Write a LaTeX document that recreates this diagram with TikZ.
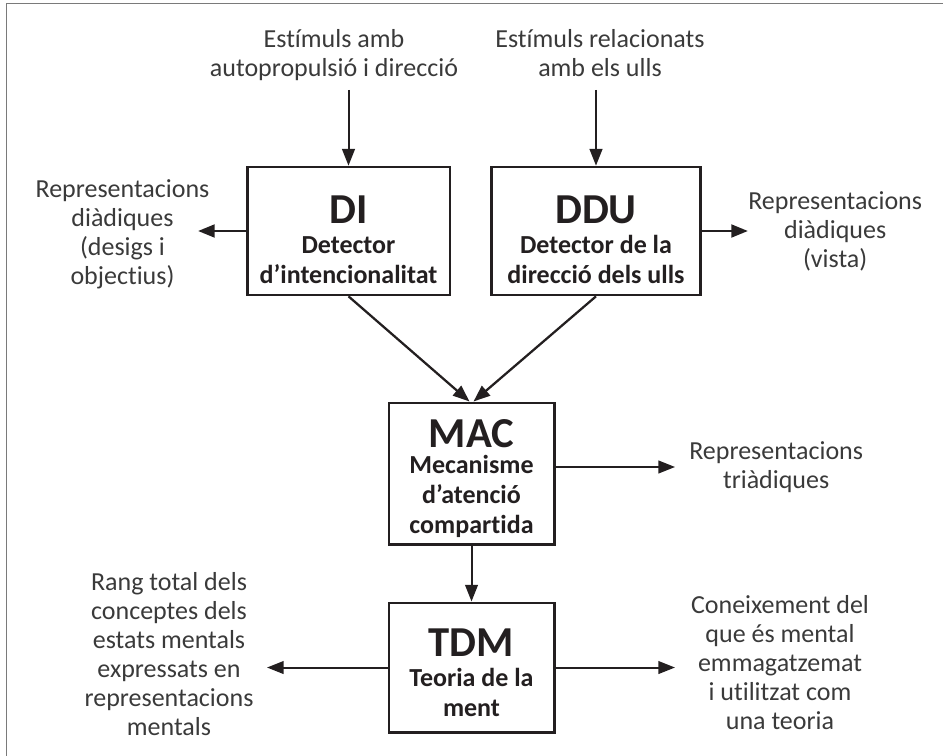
\documentclass[tikz,border=0pt]{standalone}
\usepackage{fontspec}
\setmainfont{Carlito}[Ligatures={NoCommon}]
\usepackage{tikz}
\usetikzlibrary{positioning, arrows.meta}
\definecolor{ink}{HTML}{231f20}
\definecolor{txt}{HTML}{3a3a3a}
\definecolor{frameGray}{HTML}{7a7a7a}
\newcommand{\ttl}[2][28pt]{{\fontsize{32}{32}\selectfont\rule{0pt}{#1}#2}}

\begin{document}
\begin{tikzpicture}[x=0.75pt, y=-0.75pt,
  box/.style={draw=ink, line width=2pt, align=center, inner sep=0pt, text=ink, font=\fontsize{19.5}{22.5}\selectfont\bfseries},
  lbl/.style={align=center, inner sep=0pt, text=txt, font=\fontsize{19.5}{21.75}\selectfont},
  arr/.style={-{Triangle[length=12.5pt, width=9.5pt]}, line width=1.5pt, draw=ink},
  side/.style={arr, line width=2.1pt}]
\useasboundingbox (0,0) rectangle (943,756);
\draw[frameGray, line width=1.1pt] (6.7,760) -- (6.7,3.3) -- (947,3.3);
% modules
\node[box, minimum width=152pt, minimum height=96pt] (di) at (348.5,231) {\ttl[34pt]{DI}\\Detector\\d’intencionalitat};
\node[box, minimum width=157pt, minimum height=96pt] (ddu) at (596,231) {\ttl[34pt]{DDU}\\Detector de la\\direcció dels ulls};
\node[box, minimum width=124pt, minimum height=106pt] (mac) at (471.5,473.5) {\ttl{MAC}\\[-3pt]Mecanisme\\d’atenció\\compartida};
\node[box, minimum width=124pt, minimum height=97pt] (tdm) at (471.5,667.5) {\ttl{TDM}\\Teoria de la\\ment};
% inputs
\node[lbl] (inDI) at (334,55.5) {Estímuls amb\\autopropulsió i direcció};
\node[lbl] (inDDU) at (600,53) {Estímuls relacionats\\amb els ulls};
\coordinate (diIn) at (348.5,90);
\coordinate (dduIn) at (596,90);
\draw[arr] (diIn) -- (di.north);
\draw[arr] (dduIn) -- (ddu.north);
% outputs
\coordinate (diL) at (198,231);
\coordinate (dduR) at (748,231);
\coordinate (macR) at (675,467);
\coordinate (tdmL) at (267,667.5);
\coordinate (tdmR) at (675,667.5);
\draw[side] (di.west) -- (diL);
\draw[side] (ddu.east) -- (dduR);
\draw[arr] (mac.east |- macR) -- (macR);
\draw[arr] (tdm.west) -- (tdmL);
\draw[arr] (tdm.east) -- (tdmR);
\node[lbl] (outDI) at (122.5,234) {Representacions\\diàdiques\\(desigs i\\objectius)};
\node[lbl, right=0pt of dduR] (outDDU) {Representacions\\diàdiques\\(vista)};
\node[lbl, right=10.5pt of macR] (outMAC) {Representacions\\triàdiques};
\node[lbl] (outTDMl) at (169,654) {Rang total dels\\conceptes dels\\estats mentals\\expressats en\\representacions\\mentals};
\node[lbl] (outTDMr) at (780,663) {Coneixement del\\que és mental\\emmagatzemat\\i utilitzat com\\una teoria};
% flow
\draw[arr, line width=1.7pt] (di.south) -- ([xshift=-1.5pt]mac.north);
\draw[arr, line width=1.7pt] (ddu.south) -- ([xshift=1.5pt]mac.north);
\draw[arr] (mac.south) -- (tdm.north);
\end{tikzpicture}
\end{document}
